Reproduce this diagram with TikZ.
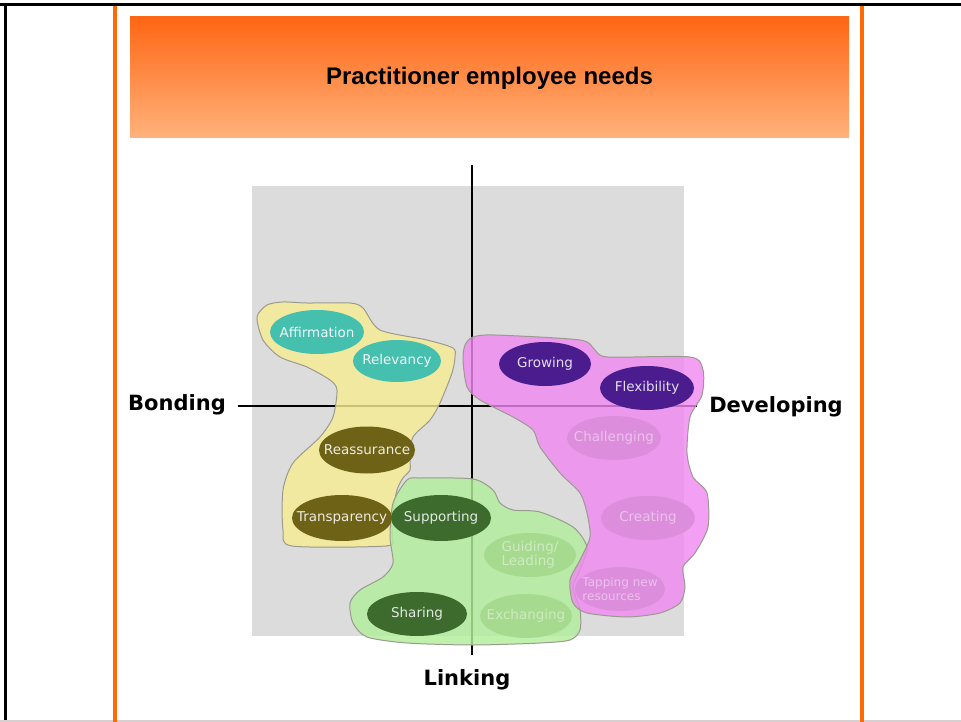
\documentclass[tikz,border=0pt]{standalone}
\usepackage{fontspec}
\setmainfont{DejaVu Sans}
\newfontfamily\titlefont{Liberation Sans}
\usetikzlibrary{shapes.geometric}
\definecolor{orangeline}{HTML}{FF6A00}
\definecolor{headtop}{HTML}{FF6614}
\definecolor{headbot}{HTML}{FFB27C}
\definecolor{gridgray}{HTML}{DCDCDC}
\definecolor{blobyellow}{HTML}{F6EC94}
\definecolor{blobpink}{HTML}{F088F0}
\definecolor{blobgreen}{HTML}{B2EE9C}
\definecolor{blobedge}{HTML}{9A9A8E}
\definecolor{bottomline}{HTML}{D8D0D0}
\definecolor{tealc}{HTML}{45BFAE}
\definecolor{olivec}{HTML}{6E6216}
\definecolor{purplec}{HTML}{4A1C8E}
\definecolor{dgreenc}{HTML}{3D6B2E}
\definecolor{lpinkc}{HTML}{DC8EDC}
\definecolor{lgreenc}{HTML}{A6DA8E}
\tikzset{
  need/.style={ellipse, inner sep=0pt, minimum width=94pt, minimum height=44pt},
  needtext/.style={font=\fontsize{13.5}{14.5}\selectfont, align=center, inner sep=0pt},
  teal/.style={need, fill=tealc, label={[needtext, text=white!92!tealc]center:#1}},
  olive/.style={need, fill=olivec, label={[needtext, text=white!88!olivec]center:#1}},
  purp/.style={need, fill=purplec, label={[needtext, text=white!85!purplec]center:#1}},
  dgreen/.style={need, fill=dgreenc, label={[needtext, text=white!85!dgreenc]center:#1}},
  lpink/.style={need, fill=lpinkc, label={[needtext, text=white!45!lpinkc]center:#1}},
  lpinksmall/.style={need, fill=lpinkc, label={[needtext, align=left, font=\fontsize{12}{14}\selectfont, text=white!45!lpinkc]center:#1}},
  lgreen/.style={need, fill=lgreenc, label={[needtext, align=left, text=white!45!lgreenc]center:#1}},
  axislabel/.style={font=\bfseries\fontsize{21}{24}\selectfont, inner sep=0pt},
  blob/.style={draw=blobedge, line width=1pt, fill opacity=0.82},
  axisline/.style={draw=black, line width=2.2pt}
}
\begin{document}
\begin{tikzpicture}[x=1pt,y=-1pt]
\useasboundingbox (0,0) rectangle (961,722);
\fill[white] (0,0) rectangle (961,722);
% frame
\draw[black, line width=3pt] (0,5) -- (961,5);
\draw[black, line width=3pt] (5,3.5) -- (5,722);
\draw[bottomline, line width=1.5pt] (0,721.2) -- (961,721.2);
\draw[orangeline, line width=4pt] (115,6.5) -- (115,722);
\draw[orangeline, line width=4pt] (862,6.5) -- (862,722);
% header
\shade[top color=headtop, bottom color=headbot] (130,17) rectangle (849,138);
\node[font=\titlefont\bfseries\fontsize{24}{27}\selectfont] (title) at (489.5,78) {Practitioner employee needs};
% grid
\fill[gridgray] (252,186) rectangle (684,636);
\coordinate (vtop) at (472,165);
\coordinate (vbot) at (472,655);
\coordinate (hleft) at (238,406);
\coordinate (hright) at (697,406);
\draw[axisline] (vtop) -- (vbot);
\draw[axisline] (hleft) -- (hright);
\node[axislabel] (bonding) at (177,405) {Bonding};
\node[axislabel] (developing) at (776,407) {Developing};
\node[axislabel] (linking) at (467,680) {Linking};
% blobs
\filldraw[blob, fill=blobyellow] plot[smooth cycle, tension=0.45] coordinates {
 (257,317) (267,305) (283,302) (307,303) (350,303) (363,308) (380,330) (427,340)
 (453,348) (455,357) (452,373) (440,403) (430,420) (413,437) (410,457) (410,470)
 (403,478) (397,490) (392,517) (392,537) (386,546) (292,546) (283,530) (283,490)
 (293,463) (320,437) (333,417) (337,390) (330,380) (307,367) (280,357) (263,340)};
\filldraw[blob, fill=blobgreen] plot[smooth cycle, tension=0.45] coordinates {
 (407,480) (420,478) (473,479) (493,490) (500,503) (513,510) (540,512) (573,527)
 (587,547) (580,570) (573,587) (580,610) (580,630) (570,640) (540,643) (473,645)
 (407,643) (367,637) (353,623) (350,603) (360,590) (383,577) (393,563) (390,537)
 (393,503)};
\filldraw[blob, fill=blobpink, fill opacity=0.8] plot[smooth cycle, tension=0.45] coordinates {
 (463,360) (465,345) (473,337) (495,335) (580,340) (595,350) (608,357) (690,357)
 (703,370) (702,395) (690,417) (687,453) (693,477) (707,493) (708,527) (695,553)
 (683,567) (685,587) (680,603) (660,613) (627,617) (587,613) (573,603) (570,580)
 (580,560) (590,537) (587,513) (580,493) (560,473) (540,447) (533,430) (513,417)
 (480,400) (467,387)};
% needs
\node[teal=Affirmation] (affirmation) at (317,332) {};
\node[teal=Relevancy, minimum width=88pt, minimum height=42pt] (relevancy) at (397,361) {};
\node[purp=Growing, minimum width=92pt] (growing) at (545,364) {};
\node[purp=Flexibility] (flexibility) at (647,388) {};
\node[lpink=Challenging] (challenging) at (614,438) {};
\node[lpink=Creating] (creating) at (648,518) {};
\node[lpinksmall={Tapping new\\resources}, minimum width=90pt] (tapping) at (620,589) {};
\node[olive=Reassurance, minimum width=96pt, minimum height=47pt] (reassurance) at (367,450) {};
\node[olive=Transparency, minimum width=100pt, minimum height=46pt] (transparency) at (342,518) {};
\node[dgreen=Supporting, minimum width=100pt, minimum height=46pt] (supporting) at (441,518) {};
\node[lgreen={Guiding/\\Leading}, minimum width=92pt] (guiding) at (530,555) {};
\node[dgreen=Sharing, minimum width=100pt] (sharing) at (417,614) {};
\node[lgreen=Exchanging, minimum width=92pt] (exchanging) at (526,616) {};
\end{tikzpicture}
\end{document}
